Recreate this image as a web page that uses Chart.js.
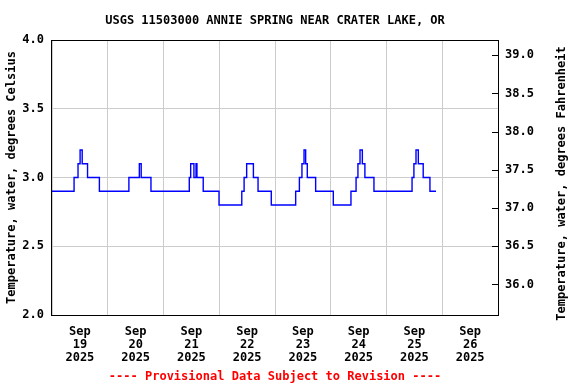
<!DOCTYPE html>
<html>
<head>
<meta charset="utf-8">
<script src="https://cdn.jsdelivr.net/npm/chart.js@4/dist/chart.umd.min.js"></script>
<style>
  body { margin: 0; background: #fff; }
  canvas { display: block; }
</style>
</head>
<body>
<canvas id="tempcanvas" width="576" height="384"></canvas>
<script>
// hours since Sep 19 00:00, value changes (step) to tempC at that hour
var changeHours = [0, 9.5, 11.2, 12.1, 13.0, 15.3, 20.4,
    33.1, 37.6, 38.4, 42.6,
    59.1, 59.7, 61.1, 62.0, 62.4, 65.1, 71.9,
    81.7, 82.7, 83.8, 86.7, 88.7, 94.4,
    104.9, 106.5, 107.6, 108.5, 109.2, 109.9, 113.5, 121.1,
    128.7, 130.9, 131.7, 132.6, 133.6, 134.7, 138.6,
    155.0, 155.8, 156.7, 157.7, 159.8, 162.7, 165.3];
var tempC = [2.9, 3.0, 3.1, 3.2, 3.1, 3.0, 2.9,
    3.0, 3.1, 3.0, 2.9,
    3.0, 3.1, 3.0, 3.1, 3.0, 2.9, 2.8,
    2.9, 3.0, 3.1, 3.0, 2.9, 2.8,
    2.9, 3.0, 3.1, 3.2, 3.1, 3.0, 2.9, 2.8,
    2.9, 3.0, 3.1, 3.2, 3.1, 3.0, 2.9,
    3.0, 3.1, 3.2, 3.1, 3.0, 2.9, 2.9];
var monthLabel = 'Sep';
var dayLabels = ['19', '20', '21', '22', '23', '24', '25', '26'];
var yearLabel = '2025';
var fahrenheitTicks = [36.0, 36.5, 37.0, 37.5, 38.0, 38.5, 39.0];

var monoFont = '"DejaVu Sans Mono", monospace';
var points = changeHours.map((h, i) => {
    return { x: h, y: tempC[i] };
});

var framePlugin = {
    id: 'frame',
    afterDraw: (chart) => {
        var ctx = chart.ctx;
        var a = chart.chartArea;
        ctx.save();
        // inward ticks on the fahrenheit axis
        var y2 = chart.scales.y2;
        ctx.strokeStyle = '#000';
        ctx.lineWidth = 1;
        ctx.beginPath();
        y2.ticks.forEach(t => {
            var py = Math.round(y2.getPixelForValue(t.value)) + 0.5;
            ctx.moveTo(a.right - 6, py);
            ctx.lineTo(a.right, py);
        });
        ctx.stroke();
        ctx.strokeRect(Math.round(a.left) - 0.5, Math.round(a.top) + 0.5,
            Math.round(a.right - a.left) + 1, Math.round(a.bottom - a.top));
        // right axis title, reading bottom to top
        ctx.translate(562, (a.top + a.bottom) / 2 + 6);
        ctx.rotate(-Math.PI / 2);
        ctx.fillStyle = '#000';
        ctx.font = 'bold 12px ' + monoFont;
        ctx.textAlign = 'center';
        ctx.textBaseline = 'middle';
        ctx.fillText('Temperature, water, degrees Fahrenheit', 0, 0);
        ctx.restore();
    }
};

var ctx = document.getElementById('tempcanvas').getContext('2d');
window.myLine = new Chart(ctx, {
    type: 'line',
    data: {
        datasets: [{
            label: 'Temperature',
            data: points,
            borderColor: '#0000ff',
            borderWidth: 1.4,
            pointRadius: 0,
            stepped: true,
            fill: false
        }]
    },
    options: {
        responsive: false,
        animation: false,
        layout: { padding: 0 },
        plugins: {
            legend: { display: false },
            tooltip: { enabled: false },
            title: {
                display: true,
                fullSize: false,
                text: 'USGS 11503000 ANNIE SPRING NEAR CRATER LAKE, OR',
                color: '#000',
                font: { family: monoFont, size: 12, weight: 'bold', lineHeight: 1.2 },
                padding: { top: 14, bottom: 11.6 }
            }
        },
        scales: {
            x: {
                type: 'linear',
                min: 0,
                max: 192,
                afterFit: (scale) => { scale.height = 69; },
                border: { display: false },
                grid: {
                    drawTicks: false,
                    color: (c) => (c.tick && c.tick.value % 24 === 0) ? '#cccccc' : 'rgba(0,0,0,0)'
                },
                ticks: {
                    stepSize: 12,
                    autoSkip: false,
                    maxRotation: 0,
                    padding: 10,
                    color: '#000',
                    font: { family: monoFont, size: 12, weight: 'bold', lineHeight: 1.1 },
                    callback: (value) => {
                        if (value % 24 === 12) {
                            var i = (value - 12) / 24;
                            return [monthLabel, dayLabels[i], yearLabel];
                        }
                        return '';
                    }
                },
                title: {
                    display: true,
                    text: '---- Provisional Data Subject to Revision ----',
                    color: '#ff0000',
                    font: { family: monoFont, size: 12, weight: 'bold', lineHeight: 1.2 },
                    padding: { top: 0, bottom: 0 }
                }
            },
            y: {
                position: 'left',
                min: 2.0,
                max: 4.0,
                afterFit: (scale) => { scale.width = 52; },
                border: { display: false },
                grid: { drawTicks: false, color: '#cccccc' },
                ticks: {
                    stepSize: 0.5,
                    padding: 8,
                    color: '#000',
                    font: { family: monoFont, size: 12, weight: 'bold' },
                    callback: (v) => v.toFixed(1)
                },
                title: {
                    display: true,
                    text: 'Temperature, water, degrees Celsius',
                    color: '#000',
                    font: { family: monoFont, size: 12, weight: 'bold', lineHeight: 1.2 },
                    padding: { top: 5, bottom: 0 }
                }
            },
            y2: {
                position: 'right',
                min: 2.0 * 1.8 + 32,
                max: 4.0 * 1.8 + 32,
                afterFit: (scale) => { scale.width = 78; },
                afterBuildTicks: (scale) => {
                    scale.ticks = fahrenheitTicks.map(v => ({ value: v }));
                },
                border: { display: false },
                grid: { drawTicks: false, drawOnChartArea: false },
                ticks: {
                    padding: 7,
                    color: '#000',
                    font: { family: monoFont, size: 12, weight: 'bold' },
                    callback: (v) => v.toFixed(1)
                }
            }
        }
    },
    plugins: [framePlugin]
});
</script>
</body>
</html>
